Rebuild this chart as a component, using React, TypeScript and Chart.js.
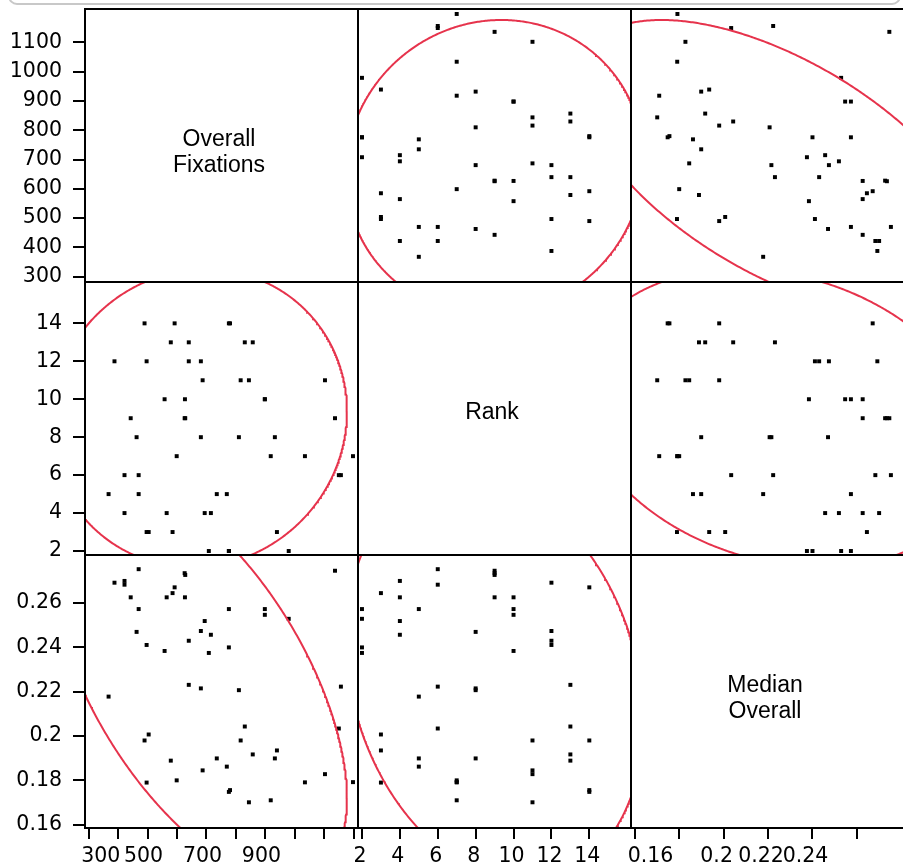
import React, { useEffect, useRef } from 'react';
import { Chart, registerables } from 'chart.js';

Chart.register(...registerables);

// ---------- data (one entry per observation) ----------
const overallFixations = [
  368, 388, 422, 422, 443, 463, 470, 470, 490, 497, 497, 504, 558, 565, 579, 585, 592,
  599, 626, 628, 627, 640, 640, 681, 681, 687, 694, 708, 715, 735, 769, 776, 780, 776,
  776, 810, 816, 830, 844, 857, 898, 898, 918, 932, 939, 979, 1034, 1102, 1136, 1149,
  1156, 1197,
];
const rank = [
  5, 12, 6, 4, 9, 8, 6, 5, 14, 12, 3, 3, 10, 4, 13, 3, 14,
  7, 9, 9, 10, 12, 13, 12, 8, 11, 4, 2, 4, 5, 5, 14, 14, 2,
  2, 8, 11, 13, 11, 13, 10, 10, 7, 8, 3, 2, 7, 11, 9, 6,
  6, 7,
];
const medianOverall = [
  0.2178, 0.2692, 0.2683, 0.27, 0.2626, 0.247, 0.2753, 0.2573, 0.198, 0.2411, 0.179, 0.2007,
  0.2384, 0.2626, 0.1889, 0.2645, 0.2671, 0.18, 0.2735, 0.2727, 0.2626, 0.243, 0.2231, 0.2474,
  0.2215, 0.1845, 0.2519, 0.2375, 0.2457, 0.1899, 0.1862, 0.1748, 0.1756, 0.2573, 0.24, 0.2207,
  0.198, 0.2043, 0.1701, 0.1917, 0.2573, 0.2547, 0.171, 0.1899, 0.1935, 0.2529, 0.1791, 0.1828,
  0.2746, 0.2034, 0.2223, 0.1792,
];

const variableNames = [['Overall', 'Fixations'], ['Rank'], ['Median', 'Overall']];

// density-ellipse parameters (fixations, rank, median)
const ellipseCenter = [673.5, 9.0, 0.2253];
const ellipseHalfExtent = [503, 7.85, 0.0911];
const ellipseCorrelation = [
  [1, 0.046, -0.585],
  [0.046, 1, -0.205],
  [-0.585, -0.205, 1],
];

// ticks and labels
const fixationYTicks = [300, 400, 500, 600, 700, 800, 900, 1000, 1100];
const fixationYLabels = ['300', '400', '500', '600', '700', '800', '900', '1000', '1100'];
const fixationXTicks = [300, 400, 500, 600, 700, 800, 900, 1000, 1100, 1200];
const fixationXLabels = ['300', '', '500', '', '700', '', '900', '', '', ''];
const rankTicks = [2, 4, 6, 8, 10, 12, 14];
const rankLabels = ['2', '4', '6', '8', '10', '12', '14'];
const medianTicks = [0.16, 0.18, 0.2, 0.22, 0.24, 0.26];
const medianYLabels = ['0.16', '0.18', '0.2', '0.22', '0.24', '0.26'];
const medianXLabels = ['0.16', '', '0.2', '0.22', '0.24', ''];

// axis ranges (x = column use, y = row use)
const fixationXRange = [288, 1214];
const fixationYRange = [282, 1214];
const rankXRange = [1.79, 16.2];
const rankYRange = [1.79, 16.18];
const medianXRange = [0.1583, 0.2812];
const medianYRange = [0.1585, 0.2817];

// ---------- layout / style ----------
const W = 905;
const H = 867;
const GRID_LEFT = 85;
const GRID_TOP = 9;
const PANEL = 273;
const RED = '#e6334c';
const TICK_FONT = { family: 'DejaVu Sans', size: 20.5 };

const VARS = [overallFixations, rank, medianOverall];
const AXES = [
  {
    xRange: fixationXRange, yRange: fixationYRange,
    xTicks: fixationXTicks, xLabels: fixationXLabels, xLabelOffset: -4, xLead: 5,
    yTicks: fixationYTicks, yLabels: fixationYLabels,
  },
  {
    xRange: rankXRange, yRange: rankYRange,
    xTicks: rankTicks, xLabels: rankLabels, xLabelOffset: -2, xLead: 0,
    yTicks: rankTicks, yLabels: rankLabels,
  },
  {
    xRange: medianXRange, yRange: medianYRange,
    xTicks: medianTicks, xLabels: medianXLabels, xLabelOffset: -7, xLead: 7,
    yTicks: medianTicks, yLabels: medianYLabels,
  },
];

function densityEllipse(ix: number, iy: number) {
  const mx = ellipseCenter[ix], my = ellipseCenter[iy];
  const rx = ellipseHalfExtent[ix], ry = ellipseHalfExtent[iy];
  const rho = ellipseCorrelation[ix][iy];
  const q = Math.sqrt(1 - rho * rho);
  const pts: { x: number; y: number }[] = [];
  const N = 720;
  for (let i = 0; i <= N; i++) {
    const t = (i / N) * Math.PI * 2;
    const c = Math.cos(t), s = Math.sin(t);
    pts.push({ x: mx + rx * c, y: my + ry * (rho * c + q * s) });
  }
  return pts;
}

function scaleOptions(isX: boolean, show: boolean, range: number[], ticks: number[], labels: string[], size: number, labelOffset: number, lead: number) {
  return {
    type: 'linear',
    display: show,
    position: isX ? 'bottom' : 'left',
    min: range[0],
    max: range[1],
    afterBuildTicks: (s: any) => {
      s.ticks = ticks.map((v) => ({ value: v }));
    },
    afterFit: (s: any) => {
      if (!show) {
        s.width = 0; s.height = 0;
      } else if (isX) {
        s.height = size;
      } else {
        s.width = size;
      }
      s.paddingLeft = 0; s.paddingRight = 0; s.paddingTop = 0; s.paddingBottom = 0;
    },
    grid: {
      display: true,
      drawOnChartArea: false,
      drawTicks: true,
      tickLength: isX ? 11 : 12,
      tickWidth: 2,
      tickColor: '#000',
      color: '#000',
      lineWidth: 2,
    },
    border: { display: false },
    ticks: {
      autoSkip: false,
      maxRotation: 0,
      minRotation: 0,
      padding: isX ? 5 : 11,
      color: '#000',
      font: TICK_FONT,
      labelOffset: isX ? labelOffset : 0,
      callback: (_v: any, i: number) => (i === 0 && lead ? ' '.repeat(lead) : '') + (labels[i] ?? ''),
    },
  };
}

function framePlugin(lines: string[] | null) {
  return {
    id: 'panelFrame',
    afterDraw(chart: any) {
      const { ctx, chartArea: a } = chart;
      ctx.save();
      if (lines) {
        ctx.fillStyle = '#000';
        ctx.font = '23px "Liberation Sans", Arial, sans-serif';
        ctx.textAlign = 'center';
        ctx.textBaseline = 'alphabetic';
        const cx = (a.left + a.right) / 2 - 2.5;
        const cy = (a.top + a.bottom) / 2 + 0.5;
        lines.forEach((t, i) => ctx.fillText(t, cx, cy + i * 25.5));
      }
      ctx.strokeStyle = '#000';
      ctx.lineWidth = 2;
      ctx.strokeRect(a.left, a.top, a.right - a.left, a.bottom - a.top);
      ctx.restore();
    },
  };
}

function makeConfig(r: number, c: number): any {
  const diag = r === c;
  const showY = c === 0;
  const showX = r === 2;
  const pl = GRID_LEFT + c * PANEL;
  const pt = GRID_TOP + r * PANEL;
  const xa = AXES[c];
  const ya = AXES[r];
  const datasets: any[] = [];
  if (!diag) {
    const xs = VARS[c], ys = VARS[r];
    datasets.push({
      data: densityEllipse(c, r),
      showLine: true,
      borderColor: RED,
      borderWidth: 2,
      pointRadius: 0,
      fill: false,
    });
    datasets.push({
      data: xs.map((x, i) => ({ x, y: ys[i] })),
      showLine: false,
      pointStyle: 'rect',
      pointRadius: 2.8,
      backgroundColor: '#000',
      borderWidth: 0,
    });
  }
  const xAxisHeight = H - (pt + PANEL);
  return {
    type: 'scatter',
    data: { datasets },
    options: {
      animation: false,
      responsive: false,
      events: [],
      layout: {
        autoPadding: false,
        padding: {
          left: showY ? 0 : pl,
          top: pt,
          right: W - (pl + PANEL),
          bottom: showX ? 0 : H - (pt + PANEL),
        },
      },
      plugins: { legend: { display: false }, tooltip: { enabled: false }, title: { display: false } },
      scales: {
        x: scaleOptions(true, showX, xa.xRange, xa.xTicks, xa.xLabels, xAxisHeight, xa.xLabelOffset, xa.xLead),
        y: scaleOptions(false, showY, ya.yRange, ya.yTicks, ya.yLabels, pl, 0, 0),
      },
    },
    plugins: [framePlugin(diag ? variableNames[r] : null)],
  };
}

function Panel({ r, c }: { r: number; c: number }) {
  const ref = useRef<HTMLCanvasElement | null>(null);
  useEffect(() => {
    const chart = new Chart(ref.current as HTMLCanvasElement, makeConfig(r, c));
    return () => chart.destroy();
  }, [r, c]);
  return <canvas ref={ref} width={W} height={H} style={{ position: 'absolute', left: 0, top: 0 }} />;
}

const cells: [number, number][] = [];
for (let r = 0; r < 3; r++) for (let c = 0; c < 3; c++) cells.push([r, c]);

export default function App() {
  return (
    <div
      style={{
        position: 'absolute', left: 0, top: 0, width: 903, height: 867,
        overflow: 'hidden', background: '#fff',
      }}
    >
      <div
        style={{
          position: 'absolute', left: 8, top: -23, width: 889, height: 24,
          border: '2px solid #c8c8c8', borderRadius: 9,
        }}
      />
      {cells.map(([r, c]) => (
        <Panel key={`${r}-${c}`} r={r} c={c} />
      ))}
    </div>
  );
}
